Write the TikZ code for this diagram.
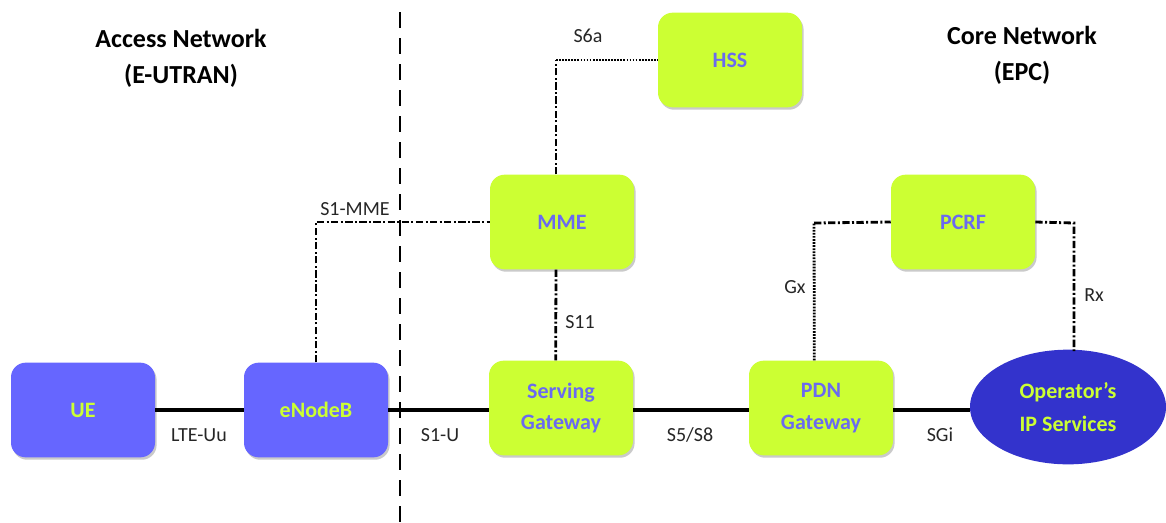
\documentclass[tikz,border=0pt]{standalone}
\usepackage{fontspec}
\setmainfont{Carlito}
\usetikzlibrary{shadows,shapes.geometric}
\definecolor{bluebox}{HTML}{6666FF}
\definecolor{limebox}{HTML}{CCFF33}
\definecolor{darkblue}{HTML}{3333CC}
\definecolor{limetext}{HTML}{CCFF33}
\definecolor{bluetext}{HTML}{6A6AF0}
\begin{document}
\begin{tikzpicture}[x=0.75pt,y=-0.75pt,
  box/.style={rounded corners=11pt, minimum width=108pt, minimum height=71pt,
    align=center, font=\fontsize{16.5}{23.5}\selectfont\bfseries,
    drop shadow={shadow xshift=1.2pt, shadow yshift=-1.8pt, opacity=0.35, fill=black!60}},
  bluenode/.style={box, fill=bluebox, text=limetext},
  limenode/.style={box, fill=limebox, text=bluetext},
  opsnode/.style={ellipse, fill=darkblue, text=limetext, minimum width=147pt, minimum height=86pt,
    inner sep=0pt, align=center, font=\fontsize{16.5}{25}\selectfont\bfseries},
  heading/.style={align=center, font=\fontsize{19.5}{27}\selectfont\bfseries},
  lbl/.style={font=\fontsize{15}{17}\selectfont, text=black!85},
  userplane/.style={line width=3.6pt},
  dashdotline/.style={line width=2.1pt, dash pattern=on 5.5pt off 1.8pt on 1.5pt off 1.8pt},
  dottedline/.style={line width=2.1pt, dash pattern=on 1.3pt off 1pt},
  divider/.style={line width=2.2pt, dash pattern=on 12pt off 7.5pt}
]
\useasboundingbox (0,0) rectangle (1166,522);

% divider
\coordinate (dtop) at (400,12);
\coordinate (dbot) at (400,522);
\draw[divider] (dtop) -- (dbot);

% headings
\node[heading] (acc) at (181,58) {Access Network\\(E-UTRAN)};
\node[heading] (core) at (1022,55) {Core Network\\(EPC)};

% nodes
\node[bluenode] (ue) at (83,410) {UE};
\node[bluenode] (enb) at (316,410) {eNodeB};
\node[limenode] (sgw) at (561,408) {Serving\\Gateway};
\node[limenode] (pgw) at (821,408) {PDN\\Gateway};
\node[opsnode] (ops) at (1068,407) {Operator’s\\IP Services};
\node[limenode] (mme) at (562,222) {MME};
\node[limenode] (hss) at (730,60) {HSS};
\node[limenode] (pcrf) at (963,222) {PCRF};

% user plane
\draw[userplane] (ue) -- (enb);
\draw[userplane] (enb) -- (enb -| sgw.west);
\draw[userplane] (enb -| sgw.east) -- (enb -| pgw.west);
\draw[userplane] (enb -| pgw.east) -- (enb -| ops.west);

% control plane
\draw[dashdotline] (enb.north) |- (mme.west);
\coordinate (c6) at (556,60);
\draw[dashdotline] ([xshift=-4.5pt]mme.north) -- (c6);
\draw[dottedline] (c6) -- (hss.west);
\draw[dashdotline] ([xshift=-4.5pt]mme.south) -- ([xshift=-4pt]sgw.north);
\coordinate (cgx) at (814,223);
\draw[dottedline] ([xshift=-5pt]pgw.north) -- (cgx);
\draw[dashdotline] (cgx) -- (pcrf.west);
\coordinate (crx) at (1074,223);
\draw[dashdotline] (pcrf.east) -- (crx) -- (1074,351);

% labels
\node[lbl] (l1) at (199,435) {LTE-Uu};
\node[lbl] (l2) at (440,435) {S1-U};
\node[lbl] (l3) at (690,435) {S5/S8};
\node[lbl] (l4) at (940,435) {SGi};
\node[lbl] (l5) at (355,209) {S1-MME};
\node[lbl] (l6) at (588,36) {S6a};
\node[lbl] (l7) at (580,322) {S11};
\node[lbl] (l8) at (795,287) {Gx};
\node[lbl] (l9) at (1094,295) {Rx};
\end{tikzpicture}
\end{document}
